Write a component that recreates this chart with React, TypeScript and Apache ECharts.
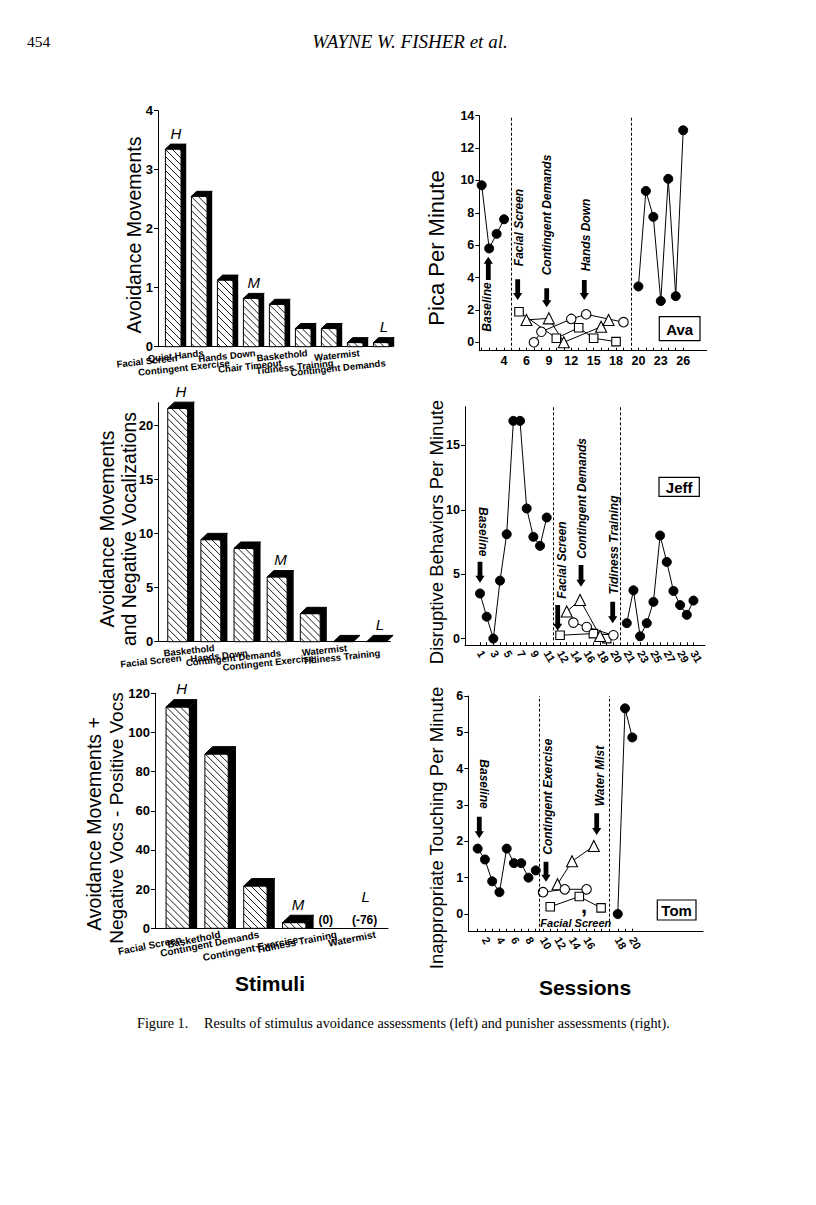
import React, { useEffect, useRef } from "react";
import * as echarts from "echarts";

const FONT = "'Liberation Sans', Arial, Helvetica, sans-serif";
const SERIF = "'Liberation Serif', 'Times New Roman', serif";

// ---------------- Left: stimulus avoidance assessments ----------------
const p1Categories = ["Facial Screen", "Quiet Hands", "Contingent Exercise", "Hands Down", "Chair Timeout", "Baskethold", "Tidiness Training", "Watermist", "Contingent Demands"];
const p1Values = [3.35, 2.55, 1.13, 0.82, 0.72, 0.31, 0.31, 0.07, 0.07];
const p1Marks = ["H", "", "", "M", "", "", "", "", "L"];
const p1YTicks = [0, 1, 2, 3, 4];

const p2Categories = ["Facial Screen", "Baskethold", "Hands Down", "Contingent Demands", "Contingent Exercise", "Watermist", "Tidiness Training"];
const p2Values = [21.6, 9.45, 8.65, 6.0, 2.6, 0, 0];
const p2Marks = ["H", "", "", "M", "", "", "L"];
const p2YTicks = [0, 5, 10, 15, 20];

const p3Categories = ["Facial Screen", "Baskethold", "Contingent Demands", "Contingent Exercise", "Tidiness Training", "Watermist"];
const p3Values = [113, 89, 21.6, 2.9, 0, -76];
const p3Marks = ["H", "", "", "M", "", "L"];
const p3YTicks = [0, 20, 40, 60, 80, 100, 120];

// label staggering (style): 0 = upper row, 1 = middle, 2 = lower row
const p1LabelRow = [1, 0, 2, 0, 2, 0, 2, 0, 2];
const p2LabelRow = [2, 0, 1, 1, 2, 0, 1];
const p3LabelRow = [1, 0, 0, 1, 0, 0];

// ---------------- Right: punisher assessments ([session, rate]) ----------------
type Pt = [number, number];

const avaBaselineA: Pt[] = [[1, 9.7], [2, 5.8], [3, 6.7], [4, 7.6]];
const avaSquares: Pt[] = [[5, 1.89], [10, 0.25], [13, 0.9], [15, 0.25], [18, 0.04]];
const avaTriangles: Pt[] = [[6, 1.38], [9, 1.48], [11, 0], [16, 0.96], [17, 1.38]];
const avaCircles: Pt[] = [[7, 0], [8, 0.65], [12, 1.44], [14, 1.73], [19, 1.24]];
const avaBaselineB: Pt[] = [[20, 3.45], [21, 9.35], [22, 7.75], [23, 2.55], [24, 10.1], [25, 2.85], [26, 13.1]];
const avaPhaseOffsets = [0, 1, 2];
const avaTickSessions = [[4], [6, 9, 12, 15, 18], [20, 23, 26]];
const avaYTicks = [0, 2, 4, 6, 8, 10, 12, 14];

const jeffBaselineA: Pt[] = [[1, 3.5], [2, 1.7], [3, 0], [4, 4.5], [5, 8.1], [6, 16.9], [7, 16.9], [8, 10.1], [9, 7.9], [10, 7.2], [11, 9.4]];
const jeffSquares: Pt[] = [[12, 0.26], [17, 0.39], [19, 0.0]];
const jeffTriangles: Pt[] = [[13, 2.1], [15, 3.0], [18, 0.2]];
const jeffCircles: Pt[] = [[14, 1.24], [16, 0.9], [20, 0.26]];
const jeffBaselineB: Pt[] = [[21, 1.2], [22, 3.75], [23, 0.18], [24, 1.2], [25, 2.85], [26, 8.0], [27, 5.95], [28, 3.7], [29, 2.6], [30, 1.85], [31, 2.95]];
const jeffPhaseOffsets = [0, 1, 2];
const jeffTickSessions = [[1, 3, 5, 7, 9, 11], [12, 14, 16, 18, 20], [21, 23, 25, 27, 29, 31]];
const jeffYTicks = [0, 5, 10, 15];

const tomBaselineA: Pt[] = [[1, 1.8], [2, 1.5], [3, 0.9], [4, 0.6], [5, 1.8], [6, 1.4], [7, 1.4], [8, 1.0], [9, 1.2]];
const tomSquares: Pt[] = [[11, 0.2], [15, 0.48], [18, 0.17]];
const tomTriangles: Pt[] = [[12, 0.82], [14, 1.45], [17, 1.87]];
const tomCircles: Pt[] = [[10, 0.6], [13, 0.68], [16, 0.68]];
const tomBaselineB: Pt[] = [[18, 0], [19, 5.66], [20, 4.86]];
const tomPhaseOffsets = [0, 0, 2.3];
const tomTickSessions = [[2, 4, 6, 8], [10, 12, 14, 16], [18, 20]];
const tomYTicks = [0, 1, 2, 3, 4, 5, 6];

// ---------------- helpers ----------------
function makeBarRender(cats: string[], marks: string[], rows: number[], drawZero: boolean, labelSize: number, labelRot: number) {
  return (params: any, api: any) => {
    const idx = params.dataIndex;
    const v = api.value(1);
    const bw = api.size([1, 0])[0];
    const base = api.coord([idx, 0]);
    const cx = base[0];
    const y0 = base[1];
    const fw = bw * 0.6;
    const x0 = cx - bw * 0.215;
    const x1 = x0 + fw;
    const dx = bw * 0.2;
    const dy = bw * 0.19;
    const children: any[] = [];
    const mark = marks[idx];
    const txt = (text: string, x: number, y: number, size: number, italic: boolean, bold: boolean) => ({
      type: "text",
      x,
      y,
      style: {
        text,
        fill: "#000",
        fontSize: size,
        fontFamily: FONT,
        fontStyle: italic ? "italic" : "normal",
        fontWeight: bold ? "bold" : "normal",
        align: "center",
        verticalAlign: "middle",
      },
    });
    if (v > 0 || (v === 0 && drawZero)) {
      const yt = api.coord([idx, v])[1];
      const h = y0 - yt;
      if (h > 0.5) {
        children.push({ type: "rect", shape: { x: x0, y: yt, width: fw, height: h }, style: { fill: "#fff", stroke: "#000", lineWidth: 1 } });
        const step = 7;
        for (let c = -fw + 2; c < h; c += step) {
          const xs = Math.max(0, -c);
          const xe = Math.min(fw, h - c);
          if (xe > xs) {
            children.push({ type: "line", shape: { x1: x0 + xs, y1: yt + xs + c, x2: x0 + xe, y2: yt + xe + c }, style: { stroke: "#000", lineWidth: 0.9 } });
          }
        }
        children.push({ type: "polygon", shape: { points: [[x1, yt], [x1 + dx, yt - dy], [x1 + dx, y0], [x1, y0]] }, style: { fill: "#000" } });
      }
      children.push({ type: "polygon", shape: { points: [[x0, yt], [x0 + dx, yt - dy], [x1 + dx, yt - dy], [x1, yt]] }, style: { fill: "#000", stroke: "#000", lineWidth: 1 } });
      if (mark) children.push(txt(mark, (x0 + x1 + dx) / 2, yt - dy - 11, 15, true, false));
    } else {
      children.push(txt("(" + v + ")", cx - 4, y0 - 8, 12, false, true));
      if (mark) children.push(txt(mark, cx - 3, y0 - 32, 15, true, false));
    }
    // category label, slanted, right end just right of the bar centre
    const row = rows[idx] ?? 0;
    children.push({
      type: "text",
      x: cx + 6,
      y: y0 + 1 + row * 5,
      rotation: (labelRot * Math.PI) / 180,
      style: {
        text: cats[idx],
        fill: "#000",
        fontSize: labelSize,
        fontFamily: FONT,
        fontWeight: "bold",
        align: "right",
        verticalAlign: "top",
      },
    });
    return { type: "group", children };
  };
}

function posData(d: Pt[], off: number): Pt[] {
  return d.map(([s, v]) => [s + off, v] as Pt);
}

function buildLinePanel(
  gi: number,
  phases: Pt[][][],
  offs: number[],
  tickSessions: number[][],
  yTicks: number[],
  xr: [number, number],
  yr: [number, number],
  rotate: number
) {
  const phaseLines: number[] = [];
  for (let k = 0; k < phases.length - 1; k++) {
    const last = Math.max(...phases[k].flat().map((p) => p[0])) + offs[k];
    const first = Math.min(...phases[k + 1].flat().map((p) => p[0])) + offs[k + 1];
    phaseLines.push((last + first) / 2);
  }
  const labelMap = new Map<string, string>();
  const labelPos: number[] = [];
  tickSessions.forEach((arr, k) =>
    arr.forEach((s) => {
      const p = s + offs[k];
      labelPos.push(p);
      labelMap.set(p.toFixed(3), String(s));
    })
  );
  const tickPos: number[] = [];
  phases.forEach((ph, k) => ph.forEach((ser) => ser.forEach((p) => tickPos.push(p[0] + offs[k]))));

  const xAxis = {
    type: "value",
    gridIndex: gi,
    min: xr[0],
    max: xr[1],
    axisLine: { show: true, onZero: false, lineStyle: { color: "#000", width: 1 } },
    axisTick: { show: true, inside: true, length: 3, customValues: tickPos, lineStyle: { color: "#000" } },
    axisLabel: {
      show: true,
      customValues: labelPos,
      formatter: (v: number) => labelMap.get(Number(v).toFixed(3)) ?? "",
      color: "#000",
      fontFamily: FONT,
      fontWeight: "bold",
      fontSize: rotate ? 11 : 12.5,
      rotate,
      margin: rotate ? 6 : 4,
    },
    splitLine: { show: false },
  };
  const yAxis = {
    type: "value",
    gridIndex: gi,
    min: yr[0],
    max: yr[1],
    axisLine: { show: true, onZero: false, lineStyle: { color: "#000", width: 1 } },
    axisTick: { show: true, length: 4, customValues: yTicks, lineStyle: { color: "#000" } },
    axisLabel: { show: true, customValues: yTicks, color: "#000", fontFamily: FONT, fontWeight: "bold", fontSize: 12.5, margin: 5 },
    splitLine: { show: false },
  };
  const lineStyle = { color: "#000", width: 1 };
  const filled = { color: "#000", borderColor: "#000", borderWidth: 1 };
  const open = { color: "#fff", borderColor: "#000", borderWidth: 1.1 };
  const mk = (data: Pt[], symbol: string, size: number, item: any, extra: any = {}) => ({
    type: "line",
    xAxisIndex: gi,
    yAxisIndex: gi,
    data,
    symbol,
    symbolSize: size,
    showAllSymbol: true,
    itemStyle: item,
    lineStyle,
    silent: true,
    z: 3,
    ...extra,
  });
  const series: any[] = [];
  series.push(
    mk(posData(phases[0][0], offs[0]), "circle", 9, filled, {
      markLine: {
        silent: true,
        symbol: ["none", "none"],
        label: { show: false },
        lineStyle: { type: [3, 2], color: "#000", width: 1 },
        data: phaseLines.map((x) => ({ xAxis: x })),
      },
    })
  );
  const openSymbols = ["rect", "triangle", "circle"];
  const openSizes = [8.5, 11, 9.5];
  phases[1].forEach((ser, i) => series.push(mk(posData(ser, offs[1]), openSymbols[i], openSizes[i], open)));
  series.push(mk(posData(phases[2][0], offs[2]), "circle", 9, filled));
  return { xAxis, yAxis, series };
}

function barPanel(gi: number, cats: string[], vals: number[], marks: string[], rows: number[], yTicks: number[], ymax: number, drawZero: boolean, fs: number, rot: number) {
  const xAxis = {
    type: "category",
    gridIndex: gi,
    data: cats,
    axisLine: { show: true, lineStyle: { color: "#000", width: 1 } },
    axisTick: { show: false },
    axisLabel: { show: false },
    splitLine: { show: false },
  };
  const yAxis = {
    type: "value",
    gridIndex: gi,
    min: 0,
    max: ymax,
    axisLine: { show: true, onZero: false, lineStyle: { color: "#000", width: 1 } },
    axisTick: { show: true, length: 4, customValues: yTicks, lineStyle: { color: "#000" } },
    axisLabel: { customValues: yTicks, color: "#000", fontFamily: FONT, fontWeight: "bold", fontSize: 13, margin: 5 },
    splitLine: { show: false },
  };
  const series = {
    type: "custom",
    xAxisIndex: gi,
    yAxisIndex: gi,
    data: vals.map((v, i) => [i, v]),
    renderItem: makeBarRender(cats, marks, rows, drawZero, fs, rot),
    clip: false,
    silent: true,
  };
  return { xAxis, yAxis, series };
}

function gText(text: string, x: number, y: number, size: number, opts: any = {}) {
  return {
    type: "text",
    x,
    y,
    rotation: opts.rotation ?? 0,
    silent: true,
    style: {
      text,
      fill: "#000",
      fontSize: size,
      fontFamily: opts.family ?? FONT,
      fontWeight: opts.weight ?? "normal",
      fontStyle: opts.style ?? "normal",
      align: opts.align ?? "center",
      verticalAlign: "middle",
      textAlign: opts.align ?? "center",
      textVerticalAlign: "middle",
    },
  };
}

function arrow(x: number, yTail: number, yTip: number) {
  const dir = yTip > yTail ? 1 : -1;
  const head = 7;
  const hw = 4.6;
  const sw = 2.4;
  const yb = yTip - dir * head;
  return {
    type: "polygon",
    silent: true,
    shape: { points: [[x - sw, yTail], [x + sw, yTail], [x + sw, yb], [x + hw, yb], [x, yTip], [x - hw, yb], [x - sw, yb]] },
    style: { fill: "#000" },
  };
}

function box(text: string, x: number, y: number, w: number, h: number) {
  return [
    { type: "rect", silent: true, shape: { x, y, width: w, height: h }, style: { fill: "#fff", stroke: "#000", lineWidth: 1.2 } },
    gText(text, x + w / 2, y + h / 2 + 0.5, 15, { weight: "bold" }),
  ];
}

const UP = -Math.PI / 2; // reads top to bottom
const VERT = Math.PI / 2; // reads bottom to top

export default function App() {
  const ref = useRef<HTMLDivElement>(null);
  useEffect(() => {
    if (!ref.current) return;
    const chart = echarts.init(ref.current, undefined, { renderer: "svg" });

    const b1 = barPanel(0, p1Categories, p1Values, p1Marks, p1LabelRow, p1YTicks, 4, true, 9.5, 6);
    const b2 = barPanel(1, p2Categories, p2Values, p2Marks, p2LabelRow, p2YTicks, 22.13, true, 9.5, 6);
    const b3 = barPanel(2, p3Categories, p3Values, p3Marks, p3LabelRow, p3YTicks, 120, false, 10, 11);

    const ava = buildLinePanel(3, [[avaBaselineA], [avaSquares, avaTriangles, avaCircles], [avaBaselineB]], avaPhaseOffsets, avaTickSessions, avaYTicks, [0.68, 31.15], [-0.52, 14], 0);
    const jeff = buildLinePanel(4, [[jeffBaselineA], [jeffSquares, jeffTriangles, jeffCircles], [jeffBaselineB]], jeffPhaseOffsets, jeffTickSessions, jeffYTicks, [-1.25, 34.73], [-0.52, 18], -60);
    const tom = buildLinePanel(5, [[tomBaselineA], [tomSquares, tomTriangles, tomCircles], [tomBaselineB]], tomPhaseOffsets, tomTickSessions, tomYTicks, [-0.29, 32.04], [-0.487, 6], -60);

    const ann = { weight: "bold", style: "italic" };
    const graphic: any[] = [
      gText("454", 27, 41, 15.5, { family: SERIF, align: "left" }),
      gText("WAYNE W. FISHER et al.", 410, 41, 19, { family: SERIF, style: "italic" }),
      gText("Figure 1.", 137, 1023, 14.2, { family: SERIF, align: "left" }),
      gText("Results of stimulus avoidance assessments (left) and punisher assessments (right).", 204, 1023, 14.2, { family: SERIF, align: "left" }),
      // left titles
      gText("Avoidance Movements", 134, 235, 19.5, { rotation: VERT }),
      gText("Avoidance Movements", 107, 529, 19.5, { rotation: VERT }),
      gText("and Negative Vocalizations", 129, 529, 19.5, { rotation: VERT }),
      gText("Avoidance Movements +", 94, 824, 19.5, { rotation: VERT }),
      gText("Negative Vocs - Positive Vocs", 116, 818, 19, { rotation: VERT }),
      gText("Stimuli", 270, 983, 21, { weight: "bold" }),
      // right titles
      gText("Pica Per Minute", 436, 248, 22, { rotation: VERT }),
      gText("Disruptive Behaviors Per Minute", 436, 532, 18.5, { rotation: VERT }),
      gText("Inappropriate Touching Per Minute", 436, 828, 18.5, { rotation: VERT }),
      gText("Sessions", 585, 987, 21, { weight: "bold" }),
      // Ava annotations
      gText("Baseline", 487, 307, 12, { rotation: VERT, ...ann }),
      arrow(488.3, 280, 256.7),
      gText("Facial Screen", 519, 227.5, 12, { rotation: VERT, ...ann }),
      arrow(517.7, 279.3, 300),
      gText("Contingent Demands", 547.3, 215, 12, { rotation: VERT, ...ann }),
      arrow(546.7, 288.3, 307.3),
      gText("Hands Down", 585.7, 235, 12, { rotation: VERT, ...ann }),
      arrow(584.3, 280, 300),
      ...box("Ava", 659.3, 316.7, 40.7, 24),
      // Jeff annotations
      gText("Baseline", 482.7, 531.7, 12, { rotation: UP, ...ann }),
      arrow(480, 561.7, 582.7),
      gText("Facial Screen", 561.7, 560, 12, { rotation: VERT, ...ann }),
      arrow(557.7, 605, 630.7),
      gText("Contingent Demands", 582.3, 498.3, 12, { rotation: VERT, ...ann }),
      arrow(581, 565, 586.7),
      gText("Tidiness Training", 614.3, 545, 12, { rotation: VERT, ...ann }),
      arrow(612.7, 601.7, 623.3),
      ...box("Jeff", 659, 477.3, 40.3, 19),
      // Tom annotations
      gText("Baseline", 484, 784, 12, { rotation: UP, ...ann }),
      arrow(479.3, 816.7, 838.3),
      gText("Contingent Exercise", 548.3, 796.7, 12, { rotation: VERT, ...ann }),
      arrow(546, 861.7, 881.7),
      gText("Water Mist", 600, 776, 12, { rotation: VERT, ...ann }),
      arrow(596.7, 813.3, 835),
      gText("Facial Screen", 575.8, 922.5, 11, ann),
      gText(",", 584, 905, 22, { weight: "bold" }),
      ...box("Tom", 657.3, 900, 38.7, 20),
    ];

    chart.setOption({
      animation: false,
      backgroundColor: "#fff",
      grid: [
        { left: 158, top: 110.7, width: 234, height: 236 },
        { left: 158.3, top: 402.7, width: 232, height: 239 },
        { left: 155, top: 693.3, width: 233, height: 235 },
        { left: 479.3, top: 115.7, width: 227.4, height: 235 },
        { left: 465, top: 406.7, width: 240, height: 238.6 },
        { left: 468.3, top: 696, width: 234.7, height: 235.7 },
      ],
      xAxis: [b1.xAxis, b2.xAxis, b3.xAxis, ava.xAxis, jeff.xAxis, tom.xAxis],
      yAxis: [b1.yAxis, b2.yAxis, b3.yAxis, ava.yAxis, jeff.yAxis, tom.yAxis],
      series: [b1.series, b2.series, b3.series, ...ava.series, ...jeff.series, ...tom.series],
      graphic,
    });
    return () => chart.dispose();
  }, []);
  return <div ref={ref} style={{ position: "absolute", left: 0, top: 0, width: 816, height: 1205, background: "#fff" }} />;
}
